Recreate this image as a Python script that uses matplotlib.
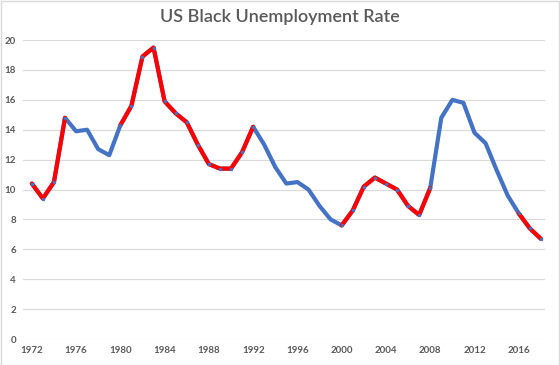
import numpy as np
import matplotlib
matplotlib.use('Agg')
import matplotlib.pyplot as plt

years = np.arange(1972, 2019)
rate = [10.4, 9.4, 10.5, 14.8, 13.9, 14.0, 12.7, 12.3, 14.3, 15.6,
        18.9, 19.5, 15.9, 15.1, 14.5, 13.0, 11.7, 11.4, 11.4, 12.5,
        14.2, 13.0, 11.5, 10.4, 10.5, 10.0, 8.9, 8.0, 7.6, 8.6,
        10.2, 10.8, 10.4, 10.0, 8.9, 8.3, 10.1, 14.8, 16.0, 15.8,
        13.8, 13.1, 11.3, 9.6, 8.4, 7.4, 6.7]
# spans drawn in red (start year, end year)
red_spans = [(1972, 1975), (1980, 1992), (2000, 2008), (2016, 2018)]

rate = np.array(rate)
txt = '#595959'
plt.rcParams['font.family'] = ['Lato', 'DejaVu Sans']

fig = plt.figure(figsize=(5.6, 3.65), dpi=100)
fig.patches.append(plt.Rectangle((0.001, 0.001), 0.997, 0.996, transform=fig.transFigure,
                                 fill=False, edgecolor='#d9d9d9', lw=1))
ax = fig.add_axes([0.041, 0.0712, 0.932, 0.819])

ax.plot(years, rate, color='#4472C4', lw=3, solid_capstyle='round', solid_joinstyle='round', zorder=3)
for a, b in red_spans:
    m = (years >= a) & (years <= b)
    ax.plot(years[m], rate[m], color='#FF0000', lw=3, solid_capstyle='round', solid_joinstyle='round', zorder=4)
    ax.plot(years[m], rate[m], 'o', color='#4472C4', ms=2.5, mec='none', zorder=5)

ax.set_xlim(1971.2, 2018.36)
ax.set_ylim(0, 20)
ax.set_yticks(np.arange(0, 21, 2))
ax.set_xticks(np.arange(1972, 2017, 4))
ax.grid(axis='y', color='#d9d9d9', lw=0.8)
ax.set_axisbelow(True)
for s in ax.spines.values():
    s.set_visible(False)
ax.tick_params(length=0, labelsize=7, labelcolor=txt, pad=5)
for lbl in ax.get_xticklabels() + ax.get_yticklabels():
    lbl.set_fontweight('bold')

fig.text(0.5, 0.953, 'US Black Unemployment Rate', ha='center', va='center',
         fontsize=13, color=txt, fontweight='semibold')

fig.savefig('out.png', dpi=100)
